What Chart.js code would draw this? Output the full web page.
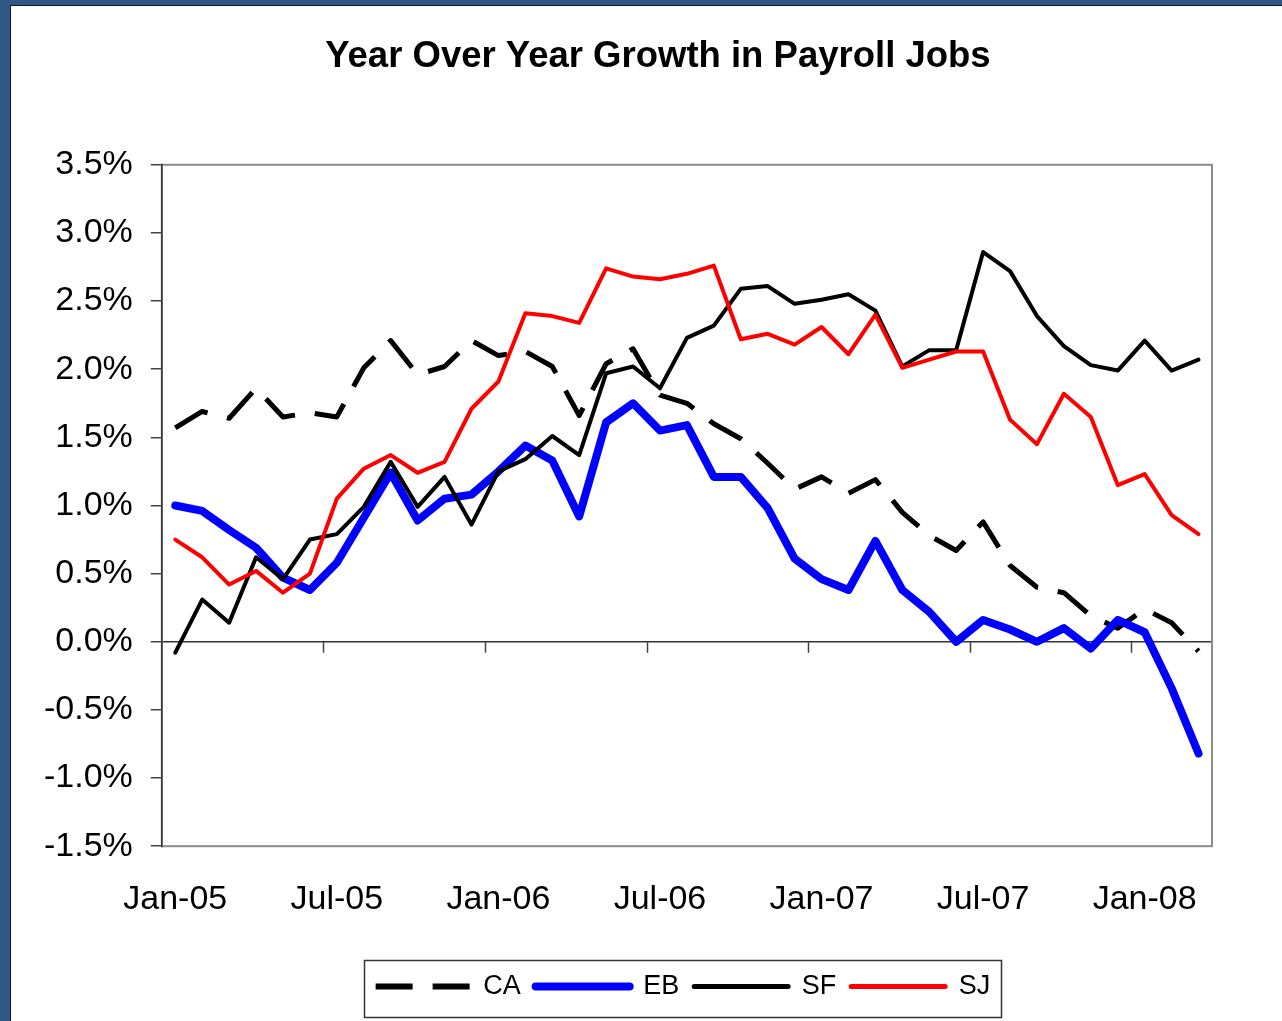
<!DOCTYPE html>
<html>
<head>
<meta charset="utf-8">
<title>Year Over Year Growth in Payroll Jobs</title>
<script src="https://cdn.jsdelivr.net/npm/chart.js@4.4.1/dist/chart.umd.min.js"></script>
<style>
    html, body { margin: 0; padding: 0; }
    body {
        width: 1282px;
        height: 1021px;
        overflow: hidden;
        background: #2f5887;
        position: relative;
    }
    .panel {
        position: absolute;
        left: 10px;
        top: 5px;
        width: 1272px;
        height: 1016px;
        background: #fff;
        border-left: 1px solid #0c1824;
        border-top: 1px solid #0c1824;
        box-sizing: border-box;
    }
    #chart { display: block; }
</style>
</head>
<body>
<div class="panel">
    <canvas id="chart" width="1271" height="1015"></canvas>
</div>
<script>
// Monthly year-over-year change in payroll jobs, Jan 2005 - Mar 2008 (percent)
const months = [
    'Jan-05', 'Feb-05', 'Mar-05', 'Apr-05', 'May-05', 'Jun-05',
    'Jul-05', 'Aug-05', 'Sep-05', 'Oct-05', 'Nov-05', 'Dec-05',
    'Jan-06', 'Feb-06', 'Mar-06', 'Apr-06', 'May-06', 'Jun-06',
    'Jul-06', 'Aug-06', 'Sep-06', 'Oct-06', 'Nov-06', 'Dec-06',
    'Jan-07', 'Feb-07', 'Mar-07', 'Apr-07', 'May-07', 'Jun-07',
    'Jul-07', 'Aug-07', 'Sep-07', 'Oct-07', 'Nov-07', 'Dec-07',
    'Jan-08', 'Feb-08', 'Mar-08'
];

// only these month labels are printed under the axis
const shownMonths = ['Jan-05', 'Jul-05', 'Jan-06', 'Jul-06', 'Jan-07', 'Jul-07', 'Jan-08'];

const caValues = [
    1.57, 1.69, 1.64, 1.86, 1.65, 1.68, 1.65, 2.01, 2.21, 1.96, 2.02, 2.21,
    2.10, 2.13, 2.02, 1.66, 2.04, 2.15, 1.81, 1.75, 1.60, 1.49, 1.31, 1.12,
    1.21, 1.09, 1.19, 0.95, 0.78, 0.67, 0.88, 0.56, 0.40, 0.36, 0.19, 0.10,
    0.24, 0.14, -0.07
];
const ebValues = [
    1.00, 0.96, 0.82, 0.69, 0.47, 0.38, 0.58, 0.91, 1.24, 0.89, 1.05, 1.08,
    1.25, 1.44, 1.33, 0.92, 1.61, 1.75, 1.55, 1.59, 1.21, 1.21, 0.98, 0.61,
    0.46, 0.38, 0.74, 0.38, 0.22, 0.00, 0.16, 0.09, 0.00, 0.10, -0.05, 0.16,
    0.07, -0.34, -0.82
];
const sfValues = [
    -0.08, 0.31, 0.14, 0.62, 0.46, 0.75, 0.79, 0.99, 1.32, 0.99, 1.21, 0.86,
    1.25, 1.34, 1.51, 1.37, 1.97, 2.02, 1.86, 2.23, 2.32, 2.59, 2.61, 2.48,
    2.51, 2.55, 2.43, 2.02, 2.14, 2.14, 2.86, 2.72, 2.39, 2.17, 2.03, 1.99,
    2.21, 1.99, 2.07
];
const sjValues = [
    0.75, 0.62, 0.42, 0.52, 0.36, 0.50, 1.05, 1.27, 1.37, 1.24, 1.32, 1.71,
    1.91, 2.41, 2.39, 2.34, 2.74, 2.68, 2.66, 2.70, 2.76, 2.22, 2.26, 2.18,
    2.31, 2.11, 2.40, 2.01, 2.07, 2.13, 2.13, 1.63, 1.45, 1.82, 1.65, 1.15,
    1.23, 0.93, 0.79
];

// y axis: -1.5% to 3.5% in half-point steps
const yMin = -1.5;
const yMax = 3.5;
const yStep = 0.5;

const FONT = "'Liberation Sans', Arial, Helvetica, sans-serif";

// horizontal offsets for title and legend relative to the plot centre
const titleShift = -29;
const legendShift = -4;

// outline of the plot area: grey frame, darker value axis on the left
const plotFrame = {
    id: 'plotFrame',
    beforeDatasetsDraw(chart) {
        const { ctx, chartArea: a } = chart;
        ctx.save();
        ctx.strokeStyle = '#8c8c8c';
        ctx.lineWidth = 2;
        ctx.strokeRect(a.left, a.top, a.right - a.left, a.bottom - a.top);
        ctx.strokeStyle = '#333';
        ctx.lineWidth = 1.5;
        ctx.beginPath();
        ctx.moveTo(a.left, a.top - 1);
        ctx.lineTo(a.left, a.bottom + 1);
        ctx.stroke();

        // half-year tick marks hanging from the 0% line
        const x = chart.scales.x;
        const zeroY = chart.scales.y.getPixelForValue(0);
        ctx.strokeStyle = '#444';
        ctx.lineWidth = 1.5;
        ctx.beginPath();
        months.forEach((m, i) => {
            if (i === 0 || !shownMonths.includes(m)) return;
            const bx = Math.round((x.getPixelForValue(i - 1) + x.getPixelForValue(i)) / 2) + 0.5;
            ctx.moveTo(bx, zeroY);
            ctx.lineTo(bx, zeroY + 11);
        });
        ctx.stroke();
        ctx.restore();
    }
};

// re-centre title and legend, and box the legend
const legendFrame = {
    id: 'legendFrame',
    afterLayout(chart) {
        const a = chart.chartArea;
        const mid = (a.left + a.right) / 2;
        const t = chart.titleBlock;
        const tw = t.right - t.left;
        t.left = mid + titleShift - tw / 2;
        t.right = t.left + tw;
        const l = chart.legend;
        const lw = l.right - l.left;
        l.left = mid + legendShift - lw / 2;
        l.right = l.left + lw;
    },
    afterDraw(chart) {
        const l = chart.legend;
        const pad = l.options.labels.padding;
        const fontSize = l.options.labels.font.size;
        const half = (l.lineWidths[0] - pad) / 2;
        const cx = (l.left + l.right) / 2;
        const cy = l.top + pad + fontSize / 2;
        const ctx = chart.ctx;
        ctx.save();
        ctx.strokeStyle = '#333';
        ctx.lineWidth = 1.5;
        ctx.strokeRect(Math.round(cx - half - 12) + 0.5, Math.round(cy - 27) + 0.5,
            Math.round(2 * half + 22), 57);
        ctx.restore();
    }
};

function series(label, data, color, width, legendWidth, dash) {
    return {
        label: label,
        data: data,
        borderColor: color,
        backgroundColor: color,
        borderWidth: width,
        legendWidth: legendWidth,
        borderDash: dash || [],
        borderCapStyle: dash ? 'butt' : 'round',
        borderJoinStyle: 'round',
        pointRadius: 0,
        pointHoverRadius: 0,
        tension: 0,
        fill: false
    };
}

const datasets = [
    series('CA', caValues, '#000000', 5, 6, [37, 20]),
    series('EB', ebValues, '#0000ff', 8, 8),
    series('SF', sfValues, '#000000', 4, 5),
    series('SJ', sjValues, '#ff0000', 4, 5)
];
// later series are painted over earlier ones
datasets.forEach((d, i) => { d.order = datasets.length - i; });

new Chart(document.getElementById('chart'), {
    type: 'line',
    data: { labels: months, datasets: datasets },
    options: {
        responsive: false,
        animation: false,
        devicePixelRatio: 1,
        layout: { padding: { left: 15, right: 70, top: 0, bottom: 11 } },
        plugins: {
            title: {
                display: true,
                text: 'Year Over Year Growth in Payroll Jobs',
                color: '#000',
                font: { family: FONT, size: 36.5, weight: 'bold', lineHeight: 1.2 },
                padding: { top: 29, bottom: 86 }
            },
            legend: {
                position: 'bottom',
                labels: {
                    color: '#000',
                    font: { family: FONT, size: 27 },
                    usePointStyle: true,
                    pointStyleWidth: 94,
                    padding: 15,
                    generateLabels: chart => chart.data.datasets.map((d, i) => ({
                        text: d.label,
                        fillStyle: d.borderColor,
                        strokeStyle: d.borderColor,
                        fontColor: '#000',
                        lineWidth: d.legendWidth,
                        lineDash: d.borderDash,
                        lineCap: d.borderCapStyle,
                        pointStyle: 'line',
                        hidden: false,
                        datasetIndex: i
                    }))
                }
            },
            tooltip: { enabled: false }
        },
        scales: {
            x: {
                offset: true,
                grid: { display: false },
                border: { display: false },
                ticks: {
                    color: '#000',
                    font: { family: FONT, size: 34 },
                    autoSkip: false,
                    maxRotation: 0,
                    padding: 25,
                    callback: function(value, index) {
                        const m = months[index];
                        return shownMonths.includes(m) ? m : '';
                    }
                },
                // a little room between the month labels and the legend
                afterFit: scale => { scale.height += 13; }
            },
            y: {
                min: yMin,
                max: yMax,
                border: { display: false },
                grid: {
                    drawOnChartArea: true,
                    color: ctx => (ctx.tick && ctx.tick.value === 0) ? '#333' : 'rgba(0,0,0,0)',
                    lineWidth: 1.5,
                    tickColor: '#444',
                    tickLength: 11,
                    tickWidth: 1.5
                },
                ticks: {
                    stepSize: yStep,
                    color: '#000',
                    font: { family: FONT, size: 34 },
                    padding: 18,
                    callback: value => value.toFixed(1) + '%'
                }
            }
        }
    },
    plugins: [plotFrame, legendFrame]
});
</script>
</body>
</html>
